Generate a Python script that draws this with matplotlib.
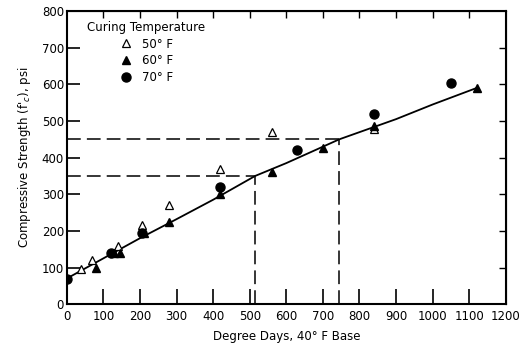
import matplotlib
matplotlib.use("Agg")
import matplotlib.pyplot as plt

# Strength readings (psi) versus maturity (degree days, 40 F base)
dd_50 = [40, 70, 140, 205, 280, 420, 560, 840]
fc_50 = [95, 120, 160, 215, 270, 370, 470, 478]

dd_60 = [80, 130, 145, 210, 280, 420, 560, 700, 840, 1120]
fc_60 = [100, 140, 140, 195, 225, 300, 360, 425, 485, 590]

dd_70 = [0, 120, 205, 420, 630, 840, 1050]
fc_70 = [68, 140, 195, 320, 420, 520, 605]

# Strength-maturity relationship
curve_dd = [0, 100, 200, 300, 400, 515, 600, 745, 900, 1000, 1120]
curve_fc = [70, 125, 180, 232, 285, 350, 385, 450, 505, 545, 590]

# Reference readings
ref_dd = [515, 745]
ref_fc = [350, 450]

x_ticks = list(range(0, 1201, 100))
y_ticks = list(range(0, 801, 100))
minor_x = list(range(100, 1101, 100))
minor_y = list(range(100, 701, 100))

fig = plt.figure(figsize=(5.22, 3.46), dpi=100)
ax = fig.add_axes([0.128, 0.121, 0.841, 0.847])

ax.plot(curve_dd, curve_fc, color="black", lw=1.3, zorder=2)

for d, f in zip(ref_dd, ref_fc):
    ax.plot([0, d], [f, f], color="black", lw=1.1, dashes=(9, 4), zorder=1)
    ax.plot([d, d], [0, f], color="black", lw=1.1, dashes=(9, 4), zorder=1)

ax.plot(dd_50, fc_50, linestyle="none", marker="^", ms=6, mfc="white",
        mec="black", mew=0.9, label="50° F", zorder=3)
ax.plot(dd_60, fc_60, linestyle="none", marker="^", ms=6, color="black",
        label="60° F", zorder=4)
ax.plot(dd_70, fc_70, linestyle="none", marker="o", ms=6.5, color="black",
        label="70° F", zorder=4)

ax.set_xlim(0, 1200)
ax.set_ylim(0, 800)
ax.set_xticks(x_ticks)
ax.set_yticks(y_ticks)
ax.tick_params(axis="both", direction="in", labelsize=8.5, width=1.2)
ax.tick_params(axis="x", length=11, pad=4)
ax.tick_params(axis="y", length=9, pad=2)
for spine in ax.spines.values():
    spine.set_linewidth(1.5)

# Short ticks on the top and right edges
top = ax.secondary_xaxis("top")
top.set_xticks(minor_x)
top.tick_params(direction="in", length=5, width=1.0, labeltop=False)
right = ax.secondary_yaxis("right")
right.set_yticks(minor_y)
right.tick_params(direction="in", length=5, width=1.0, labelright=False)

ax.set_xlabel("Degree Days, 40° F Base", fontsize=8.5, labelpad=5)
ax.set_ylabel("Compressive Strength (f$'_c$), psi", fontsize=8.5, labelpad=6)

leg = ax.legend(title="Curing Temperature", loc="upper left",
                bbox_to_anchor=(0.03, 0.99), frameon=False, fontsize=8.5,
                title_fontsize=8.5, handletextpad=0.8, labelspacing=0.3,
                borderaxespad=0.2, handlelength=1.2)

fig.savefig("out.png", dpi=100)
